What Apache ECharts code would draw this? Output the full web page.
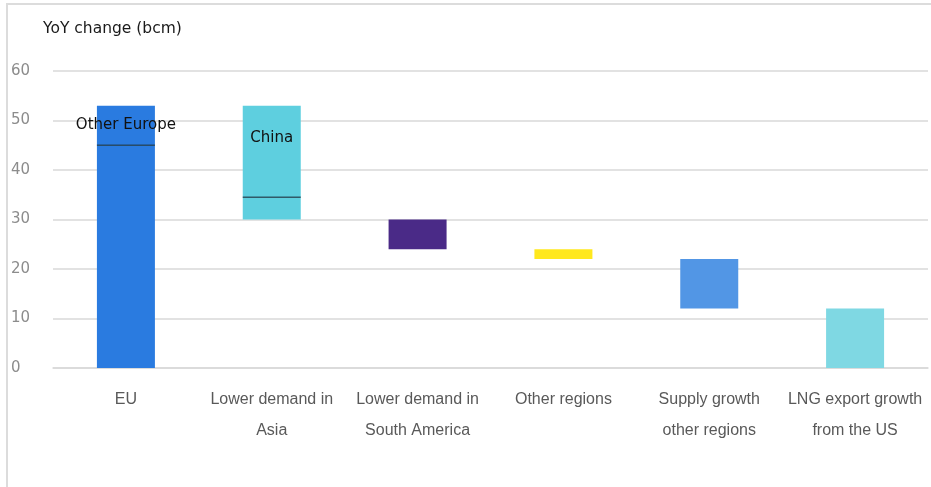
<!DOCTYPE html>
<html>
<head>
<meta charset="utf-8">
<script src="https://cdn.jsdelivr.net/npm/echarts@6/dist/echarts.min.js"></script>
<style>html,body{margin:0;padding:0;background:#fff;overflow:hidden;}#c{width:931px;height:487px;}</style>
</head>
<body>
<div id="c"></div>
<script>
// Data
const categories = ['EU', 'Lower demand in\nAsia', 'Lower demand in\nSouth America', 'Other regions', 'Supply growth\nother regions', 'LNG export growth\nfrom the US'];
const baseValues = [0, 30, 24, 22, 12, 0];
const lowerValues = [45, 4.5, 6, 2, 10, 12];
const upperValues = [8, 18.5, '-', '-', '-', '-'];
const upperLabels = ['Other Europe', 'China', '', '', '', ''];
const dividerValues = [45, 34.5, '-', '-', '-', '-'];
const barColors = ['#2a7be0', '#5ecfdf', '#4a2a87', '#ffe81e', '#5296e5', '#7fd8e3'];
const yTicks = { min: 0, max: 60, interval: 10 };

const font = "'Liberation Sans Narrow', 'Liberation Sans', sans-serif";
const wideFont = "'DejaVu Sans', sans-serif";
const chart = echarts.init(document.getElementById('c'));
chart.setOption({
  animation: false,
  title: {
    text: 'YoY change (bcm)', left: 38, top: 16,
    textStyle: { fontFamily: wideFont, fontSize: 15.5, fontWeight: 'normal', color: '#1a1a1a' }
  },
  graphic: [{
    type: 'polyline', silent: true,
    shape: { points: [[7, 495], [7, 4], [945, 4]] },
    style: { stroke: '#dcdcdc', lineWidth: 2, fill: null }
  }],
  grid: { left: 53, right: 3, top: 71, bottom: 119 },
  xAxis: {
    type: 'category', data: categories,
    axisLine: { show: true, lineStyle: { color: '#d9d9d9', width: 1.5 } },
    axisTick: { show: false },
    axisLabel: { interval: 0, margin: 16, fontFamily: font, fontSize: 16, color: '#595959', lineHeight: 31, verticalAlign: 'top' }
  },
  yAxis: {
    type: 'value', min: yTicks.min, max: yTicks.max, interval: yTicks.interval,
    axisLine: { show: false }, axisTick: { show: false },
    splitLine: { lineStyle: { color: '#d9d9d9', width: 1.5 } },
    axisLabel: { align: 'left', margin: 42, fontFamily: wideFont, fontSize: 15, color: '#8c8c8c' }
  },
  series: [
    {
      type: 'bar', stack: 'w', data: baseValues, barWidth: 58,
      itemStyle: { color: 'transparent' }, silent: true
    },
    {
      type: 'bar', stack: 'w', barWidth: 58,
      data: lowerValues.map((v, i) => ({ value: v, itemStyle: { color: barColors[i] } }))
    },
    {
      type: 'bar', stack: 'w', barWidth: 58,
      data: upperValues.map((v, i) => ({
        value: v,
        itemStyle: { color: barColors[i] },
        label: i === 1
          ? { show: true, position: 'insideTop', distance: 25, formatter: upperLabels[i] }
          : { show: true, position: 'inside', formatter: upperLabels[i] }
      })),
      label: { fontFamily: wideFont, fontSize: 15, color: '#111' },
      labelLayout: { hideOverlap: false }
    },
    {
      type: 'scatter', data: dividerValues, symbol: 'rect', symbolSize: [58, 1.6],
      itemStyle: { color: '#1f3b4a' }, z: 5, silent: true
    }
  ]
});
</script>
</body>
</html>
